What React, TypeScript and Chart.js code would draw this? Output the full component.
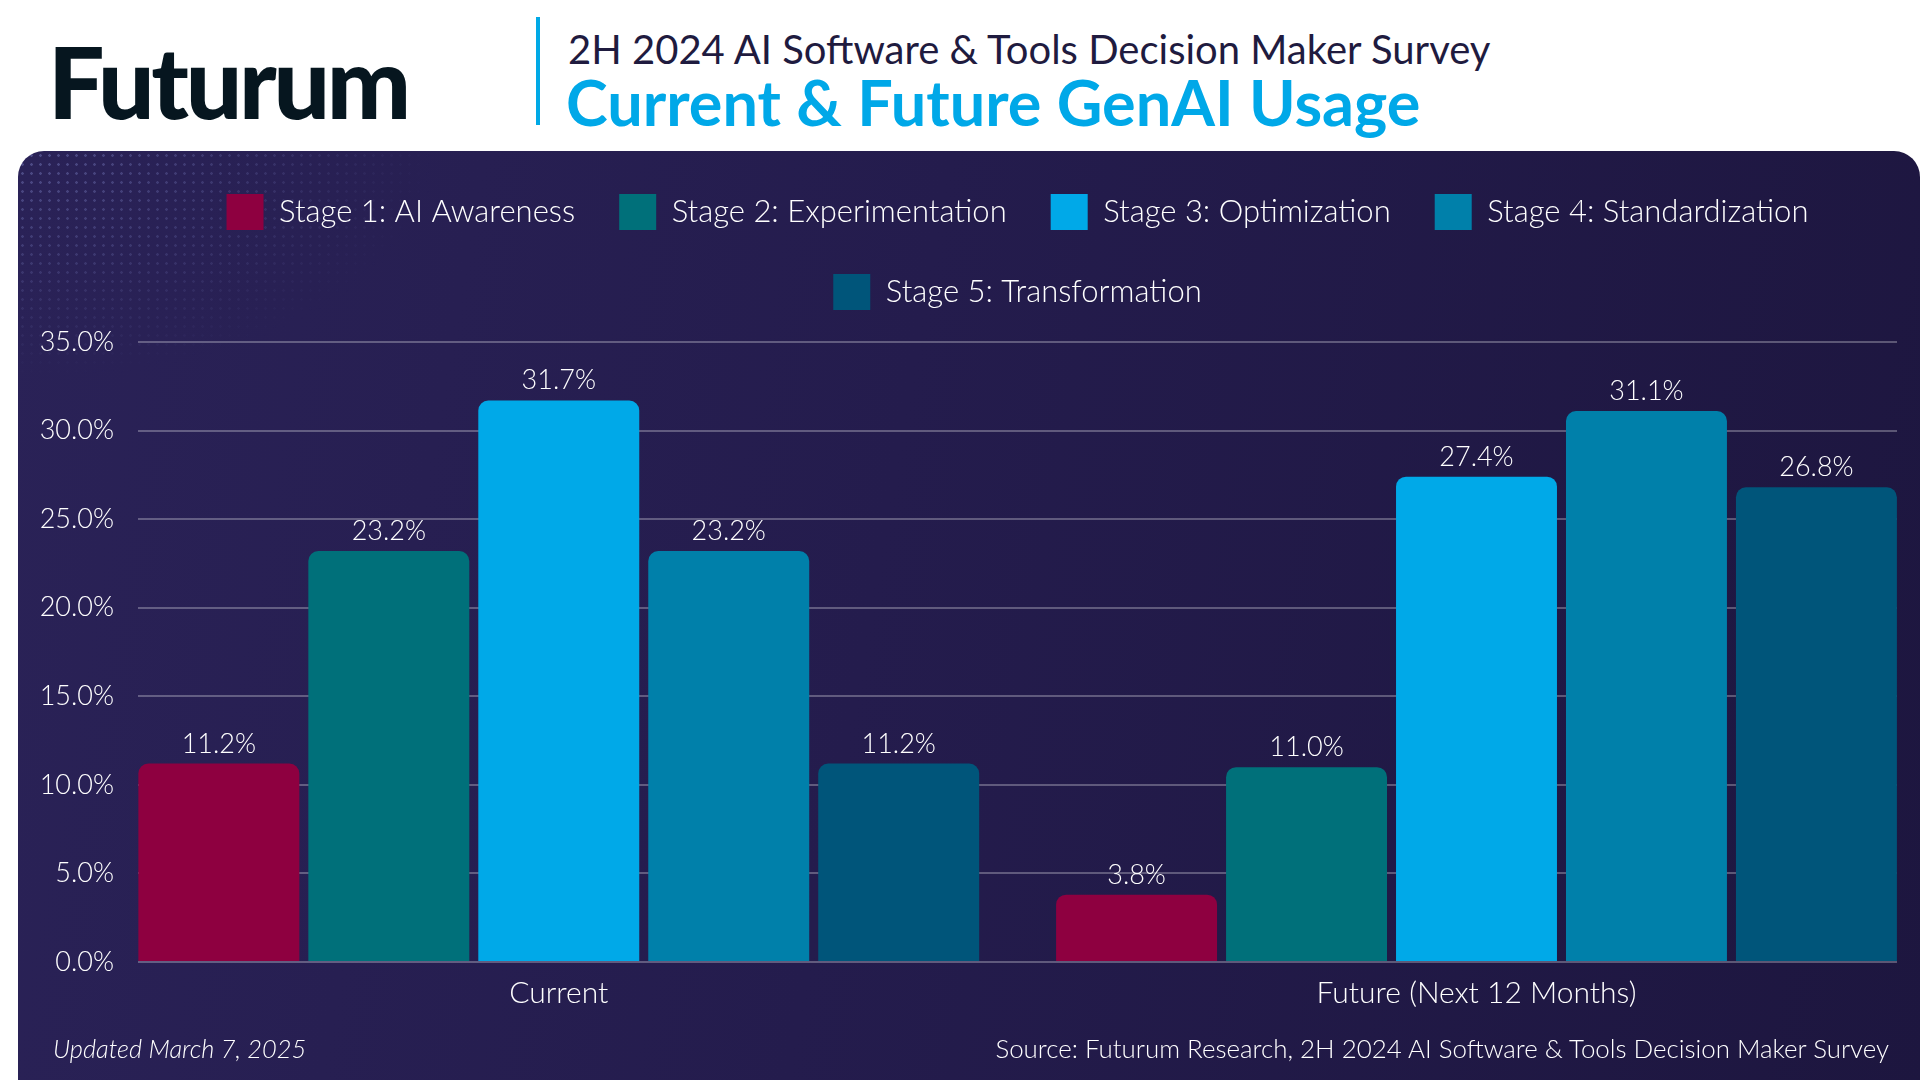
import React, { useEffect, useRef } from "react";
import { Chart, registerables } from "chart.js";

Chart.register(...registerables);

// ---------- data ----------
const categories = ["Current", "Future (Next 12 Months)"];
const stageNames = [
  "Stage 1: AI Awareness",
  "Stage 2: Experimentation",
  "Stage 3: Optimization",
  "Stage 4: Standardization",
  "Stage 5: Transformation",
];
const stage1Values = [11.2, 3.8];
const stage2Values = [23.2, 11.0];
const stage3Values = [31.7, 27.4];
const stage4Values = [23.2, 31.1];
const stage5Values = [11.2, 26.8];
const stageColors = ["#8e0040", "#00707a", "#00a9e8", "#0080aa", "#00557a"];
const yTickLabels = ["0.0%", "5.0%", "10.0%", "15.0%", "20.0%", "25.0%", "30.0%", "35.0%"];
const yMax = 35;
const yStep = 5;

const FONT = "Lato";
const LIGHT = 300;

const valueLabelPlugin = {
  id: "valueLabels",
  afterDatasetsDraw(chart: any) {
    const ctx = chart.ctx;
    ctx.save();
    ctx.font = `${LIGHT} 27px ${FONT}`;
    ctx.fillStyle = "#ffffff";
    ctx.textAlign = "center";
    ctx.textBaseline = "alphabetic";
    chart.data.datasets.forEach((ds: any, i: number) => {
      const meta = chart.getDatasetMeta(i);
      meta.data.forEach((bar: any, j: number) => {
        const v = ds.data[j] as number;
        ctx.fillText(v.toFixed(1) + "%", bar.x, bar.y - 11);
      });
    });
    ctx.restore();
  },
};

export default function App() {
  const canvasRef = useRef<HTMLCanvasElement | null>(null);

  useEffect(() => {
    if (!canvasRef.current) return;
    const seriesValues = [stage1Values, stage2Values, stage3Values, stage4Values, stage5Values];
    const chart = new Chart(canvasRef.current, {
      type: "bar",
      data: {
        labels: categories,
        datasets: stageNames.map((name, i) => ({
          label: name,
          data: seriesValues[i],
          backgroundColor: stageColors[i],
          borderWidth: 0,
          borderRadius: 10,
          borderSkipped: "start",
          categoryPercentage: 0.926,
          barPercentage: 0.947,
        })),
      },
      options: {
        responsive: false,
        animation: false,
        devicePixelRatio: 1,
        layout: { padding: { left: 0, right: 23, top: 0, bottom: 0 } },
        plugins: {
          legend: {
            position: "top",
            fullSize: false,
            labels: {
              color: "#ffffff",
              font: { family: FONT, size: 31, weight: LIGHT },
              boxWidth: 37,
              boxHeight: 36,
              padding: 44,
            },
          },
          title: {
            display: true,
            text: "",
            position: "top",
            weight: 100,
            padding: 0,
            font: { size: 22, lineHeight: 1 },
          },
          tooltip: { enabled: false },
        },
        scales: {
          x: {
            type: "category",
            offset: true,
            grid: { display: false, drawTicks: false },
            border: { display: false },
            ticks: { color: "#ffffff", font: { family: FONT, size: 30, weight: LIGHT }, padding: 13 },
            afterBuildTicks: (scale: any) => {
              scale._startValue = -0.4585;
              scale._valueRange = 1.9167;
            },
            afterFit: (scale: any) => {
              scale.height = 118;
            },
          },
          y: {
            min: 0,
            max: yMax,
            ticks: {
              stepSize: yStep,
              color: "#ffffff",
              font: { family: FONT, size: 27, weight: LIGHT },
              padding: 24,
              callback: (_v: any, i: number) => yTickLabels[i],
            },
            grid: { color: "rgba(255,255,255,0.28)", lineWidth: 2, drawTicks: false },
            border: { display: false },
            afterFit: (scale: any) => {
              scale.width = 138;
            },
          },
        },
      },
      plugins: [valueLabelPlugin],
    });
    return () => chart.destroy();
  }, []);

  return (
    <div
      style={{
        position: "fixed",
        left: 0,
        top: 0,
        width: 1920,
        height: 1080,
        overflow: "hidden",
        background: "#ffffff",
        fontFamily: FONT,
      }}
    >
      <div
        style={{
          position: "absolute",
          left: 48,
          top: 30,
          fontSize: 100,
          lineHeight: 1,
          fontWeight: 900,
          letterSpacing: "-0.033em",
          color: "#06161f",
          whiteSpace: "nowrap",
        }}
      >
        Futurum
      </div>
      <div style={{ position: "absolute", left: 536, top: 17, width: 4, height: 108, background: "#00a9e6" }} />
      <div
        style={{
          position: "absolute",
          left: 568,
          top: 29,
          fontSize: 40,
          lineHeight: 1,
          fontWeight: 400,
          color: "#1f1b3f",
          whiteSpace: "nowrap",
        }}
      >
        2H 2024 AI Software &amp; Tools Decision Maker Survey
      </div>
      <div
        style={{
          position: "absolute",
          left: 566,
          top: 70,
          fontSize: 63,
          lineHeight: 1,
          fontWeight: 700,
          color: "#00a8e8",
          whiteSpace: "nowrap",
        }}
      >
        Current &amp; Future GenAI Usage
      </div>
      <div
        style={{
          position: "absolute",
          left: 18,
          top: 151,
          width: 1902,
          height: 960,
          borderRadius: 26,
          background: "linear-gradient(100deg, #2a2257 0%, #241c4d 45%, #1d163f 100%)",
          overflow: "hidden",
        }}
      >
        <div
          style={{
            position: "absolute",
            left: 0,
            top: 0,
            width: 500,
            height: 300,
            backgroundImage: "radial-gradient(rgba(150,160,230,0.35) 1px, transparent 1.6px)",
            backgroundSize: "9px 9px",
            WebkitMaskImage: "radial-gradient(ellipse 420px 230px at 0% 0%, black 0%, transparent 100%)",
            maskImage: "radial-gradient(ellipse 420px 230px at 0% 0%, black 0%, transparent 100%)",
          }}
        />
      </div>
      <canvas
        ref={canvasRef}
        width={1920}
        height={930}
        style={{ position: "absolute", left: 0, top: 150, width: 1920, height: 930 }}
      />
      <div
        style={{
          position: "absolute",
          left: 53,
          top: 1036,
          fontSize: 25.4,
          lineHeight: 1,
          fontStyle: "italic",
          fontWeight: LIGHT,
          color: "#ffffff",
          whiteSpace: "nowrap",
        }}
      >
        Updated March 7, 2025
      </div>
      <div
        style={{
          position: "absolute",
          right: 1920 - 1889,
          top: 1036,
          fontSize: 25.9,
          lineHeight: 1,
          fontWeight: LIGHT,
          color: "#ffffff",
          whiteSpace: "nowrap",
        }}
      >
        Source: Futurum Research, 2H 2024 AI Software &amp; Tools Decision Maker Survey
      </div>
    </div>
  );
}
